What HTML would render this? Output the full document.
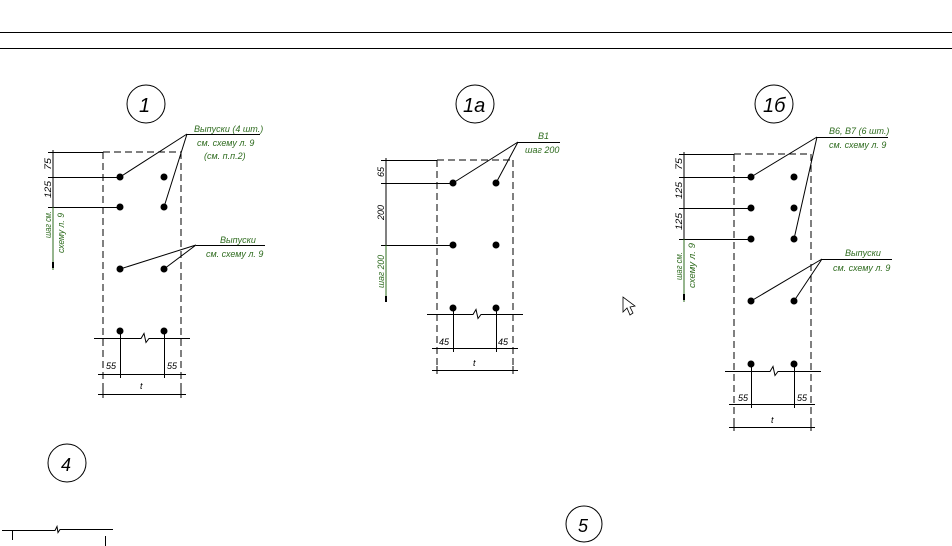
<!DOCTYPE html>
<html><head><meta charset="utf-8"><style>
html,body{margin:0;padding:0;background:#fff;}
svg{display:block}
text{font-family:"Liberation Sans","DejaVu Sans",sans-serif;font-style:italic;font-size:9px;}
.g{fill:#2e6b1e}
.k{fill:#000}
</style></head><body>
<svg width="952" height="546" viewBox="0 0 952 546" xmlns="http://www.w3.org/2000/svg">
<g stroke="#000" stroke-width="1" fill="none">
<line x1="0" y1="32.5" x2="952" y2="32.5"/>
<line x1="0" y1="48.5" x2="952" y2="48.5"/>
</g>

<!-- Diagram 1 -->
<g stroke="#000" stroke-width="1" fill="none">
<circle cx="146" cy="104" r="19"/>
<path d="M103 152V390M181 152V390M103 152H181" stroke-dasharray="7,4"/>
<path d="M103 390V398M181 390V398"/>
<path d="M53 150V207M48 152.5H103M48 177.5H120M48 207.5H120"/>
<path d="M94 338.5H141l3 -5 l2 9 l3 -4H190"/>
<path d="M120.5 331V378M164.5 331V378M98 374.5H186M98 394.5H186"/>
<path d="M187 134.5H260M187 134L120 177M187 134L164 207M196 245.5H265M196 245L120 269M196 245L164 269"/>
</g>
<line x1="53" y1="207" x2="53" y2="270" stroke="#2e6b1e"/>
<rect x="52" y="262" width="2" height="6" fill="#000"/>
<g class="k">
<circle cx="120" cy="177" r="3.5"/><circle cx="164" cy="177" r="3.5"/>
<circle cx="120" cy="207" r="3.5"/><circle cx="164" cy="207" r="3.5"/>
<circle cx="120" cy="269" r="3.5"/><circle cx="164" cy="269" r="3.5"/>
<circle cx="120" cy="331" r="3.5"/><circle cx="164" cy="331" r="3.5"/>
</g>
<text x="139" y="112" style="font-size:20px">1</text>
<text class="g" x="194" y="132">Выпуски (4 шт.)</text>
<text class="g" x="197" y="146">см. схему л. 9</text>
<text class="g" x="204" y="159">(см. п.п.2)</text>
<text class="g" x="220" y="243">Выпуски</text>
<text class="g" x="206" y="257">см. схему л. 9</text>
<text transform="translate(51,170) rotate(-90)" textLength="12" lengthAdjust="spacingAndGlyphs">75</text>
<text transform="translate(51,198) rotate(-90)" textLength="17" lengthAdjust="spacingAndGlyphs">125</text>
<text class="g" transform="translate(51,238) rotate(-90)" textLength="27" lengthAdjust="spacingAndGlyphs">шаг см.</text>
<text class="g" transform="translate(64,253) rotate(-90)" textLength="40" lengthAdjust="spacingAndGlyphs">схему л. 9</text>
<text x="106" y="369">55</text><text x="167" y="369">55</text>
<text x="140" y="389">t</text>

<!-- Diagram 1a -->
<g stroke="#000" stroke-width="1" fill="none">
<circle cx="475" cy="104" r="19"/>
<path d="M437 160V366M513 160V366M437 160H513" stroke-dasharray="7,4"/>
<path d="M437 366V374M513 366V374"/>
<path d="M386 158V245M381 160.5H437M381 183.5H453M381 245.5H453"/>
<path d="M427 314.5H473l3 -5 l2 9 l3 -4H523"/>
<path d="M453.5 308V352M496.5 308V352M432 348.5H518M432 370.5H518"/>
<path d="M518 142.5H560M518 142L453 183M518 142L496 183"/>
</g>
<line x1="386" y1="245" x2="386" y2="302" stroke="#2e6b1e"/>
<rect x="385" y="296" width="2" height="6" fill="#000"/>
<g class="k">
<circle cx="453" cy="183" r="3.5"/><circle cx="496" cy="183" r="3.5"/>
<circle cx="453" cy="245" r="3.5"/><circle cx="496" cy="245" r="3.5"/>
<circle cx="453" cy="308" r="3.5"/><circle cx="496" cy="308" r="3.5"/>
</g>
<text x="463" y="112" style="font-size:20px">1a</text>
<text class="g" x="538" y="139">B1</text>
<text class="g" x="525" y="153">шаг 200</text>
<text transform="translate(384,177) rotate(-90)">65</text>
<text transform="translate(384,220) rotate(-90)">200</text>
<text class="g" transform="translate(384,288) rotate(-90)" textLength="33" lengthAdjust="spacingAndGlyphs">шаг 200</text>
<text x="439" y="345">45</text><text x="498" y="345">45</text>
<text x="473" y="366">t</text>

<!-- Diagram 1b -->
<g stroke="#000" stroke-width="1" fill="none">
<circle cx="774" cy="104" r="19"/>
<path d="M734 154V423M811 154V423M734 154H811" stroke-dasharray="7,4"/>
<path d="M734 423V431M811 423V431"/>
<path d="M684 152V239M679 154.5H734M679 177.5H751M679 208.5H751M679 239.5H751"/>
<path d="M725 371.5H770l3 -5 l2 9 l3 -4H821"/>
<path d="M751.5 364V408M794.5 364V408M729 404.5H815M729 427.5H815"/>
<path d="M817 137.5H888M817 137L751 177M817 137L794 239M822 259.5H892M822 259L751 301M822 259L794 301"/>
</g>
<line x1="684" y1="239" x2="684" y2="302" stroke="#2e6b1e"/>
<rect x="683" y="294" width="2" height="6" fill="#000"/>
<g class="k">
<circle cx="751" cy="177" r="3.5"/><circle cx="794" cy="177" r="3.5"/>
<circle cx="751" cy="208" r="3.5"/><circle cx="794" cy="208" r="3.5"/>
<circle cx="751" cy="239" r="3.5"/><circle cx="794" cy="239" r="3.5"/>
<circle cx="751" cy="301" r="3.5"/><circle cx="794" cy="301" r="3.5"/>
<circle cx="751" cy="364" r="3.5"/><circle cx="794" cy="364" r="3.5"/>
</g>
<text x="763" y="112" style="font-size:20px">1б</text>
<text class="g" x="829" y="134">B6, B7 (6 шт.)</text>
<text class="g" x="829" y="148">см. схему л. 9</text>
<text class="g" x="845" y="256">Выпуски</text>
<text class="g" x="833" y="271">см. схему л. 9</text>
<text transform="translate(682,170) rotate(-90)" textLength="12" lengthAdjust="spacingAndGlyphs">75</text>
<text transform="translate(682,199) rotate(-90)" textLength="17" lengthAdjust="spacingAndGlyphs">125</text>
<text transform="translate(682,230) rotate(-90)" textLength="17" lengthAdjust="spacingAndGlyphs">125</text>
<text class="g" transform="translate(682,280) rotate(-90)" textLength="28" lengthAdjust="spacingAndGlyphs">шаг см.</text>
<text class="g" transform="translate(695,288) rotate(-90)" textLength="45" lengthAdjust="spacingAndGlyphs">схему л. 9</text>
<text x="738" y="401">55</text><text x="797" y="401">55</text>
<text x="771" y="423">t</text>

<!-- bottom -->
<g stroke="#000" stroke-width="1" fill="none">
<circle cx="67" cy="463" r="19"/>
<circle cx="584" cy="524" r="18"/>
<path d="M2 530.5H55l2 -4 l1 6 l2 -3H113M12.5 530V540M105.5 536V546"/>
<path d="M623 297L623 312L627 308L630 315L633 313L630 307L635 306Z" stroke-width="0.8"/>
</g>
<text x="61" y="471" style="font-size:18px">4</text>
<text x="578" y="532" style="font-size:18px">5</text>
</svg>
</body></html>
